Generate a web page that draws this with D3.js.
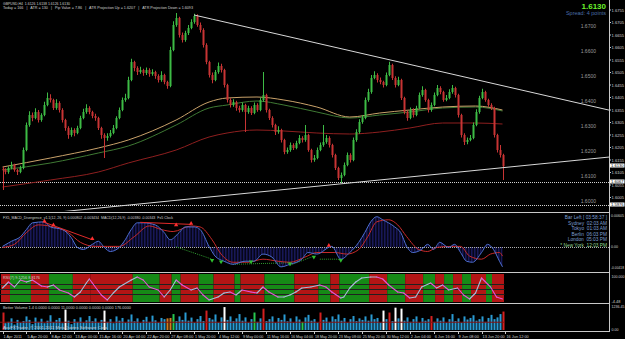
<!DOCTYPE html>
<html>
<head>
<meta charset="utf-8">
<script src="https://cdn.jsdelivr.net/npm/d3@7"></script>
<style>
body { margin: 0; background: #000; }
svg { display: block; }
text { font-family: 'Liberation Sans', Arial, sans-serif; }
</style>
</head>
<body>
<svg id="chart" width="625" height="339"></svg>
<script>
// GBPUSD H4 candles, prices stored as pips above 1.6000
const firstOpen = 120
const closePips = [115,107,123,135,115,107,123,195,295,335,323,347,315,335,375,403,395,363,383,355,
  315,283,255,275,263,283,323,347,363,347,331,323,283,255,243,251,263,283,323,355,
  395,403,475,547,523,507,515,503,515,499,507,491,475,495,467,451,595,695,723,655,
  635,663,683,707,731,695,675,615,547,495,475,507,531,515,455,395,375,387,363,355,
  375,347,363,343,375,355,395,415,355,323,295,267,275,235,187,195,215,203,223,243,
  235,255,195,155,163,195,215,227,243,215,175,123,83,95,135,175,155,235,267,307,
  323,395,427,483,495,475,467,455,495,535,483,455,475,403,347,323,355,335,363,415,
  435,395,355,375,415,443,427,395,403,427,443,415,335,255,227,235,243,295,347,403,
  427,395,375,363,255,195,175,130]
const highPips = [128,122,130,148,140,120,132,205,305,350,345,362,355,342,388,425,418,400,398,390,
  362,320,290,285,282,292,332,360,378,370,352,340,328,288,262,262,275,295,330,365,
  405,420,488,560,552,530,528,520,525,522,518,512,498,510,500,472,608,710,743,728,
  665,672,695,718,740,738,705,682,622,552,505,515,545,540,520,460,402,398,392,372,
  385,380,372,370,385,382,405,507,420,360,330,300,290,280,240,205,225,222,232,255,
  250,295,260,200,175,205,225,295,255,250,220,180,128,105,145,185,182,245,278,318,
  335,405,440,495,510,502,485,472,505,548,540,490,488,480,408,352,365,362,372,425,
  450,440,400,385,425,455,450,432,415,438,455,448,420,340,262,245,255,305,358,412,
  440,432,400,382,368,260,215,180]
const lowPips = [35,98,100,118,108,95,102,118,190,288,310,318,305,308,330,370,385,355,356,345,
  305,272,240,248,250,258,278,318,340,338,322,312,275,240,163,232,245,258,278,318,
  350,388,398,470,510,495,500,492,495,488,492,480,465,468,458,440,446,590,688,645,
  625,628,655,678,700,688,665,605,538,485,462,470,500,505,445,385,365,368,352,345,
  348,267,340,335,338,348,350,388,345,315,285,255,260,225,178,180,188,195,198,218,
  225,228,188,145,148,158,190,208,220,205,165,115,75,63,90,130,145,150,228,260,
  300,318,388,420,478,465,458,445,450,490,475,445,450,395,338,312,318,325,330,358,
  408,388,345,348,370,410,418,388,390,398,420,405,325,245,215,218,230,238,290,340,
  398,388,368,355,245,185,165,75]

// moving averages, sampled at bar indices (pips above 1.6000)
const maIdx    = [0,16,32,42,58,69,75,85,94,105,116,126,136,147,158,167]
const maOrange = [127,163,203,235,315,387,403,407,395,367,327,343,355,367,371,355]
const maGreen  = [115,143,183,211,295,363,375,391,375,347,323,335,347,363,367,351]
const maRed    = [47,75,107,143,195,247,263,275,271,263,259,267,283,303,303,299]

// trend lines and levels
const trendLines = [[[64, 1.6735], [166, 1.6455]], [[49, 1.5983], [166, 1.6123]]]
const dottedLevels = [1.6067, 1.5976]
const roundLevels = [1.67, 1.66, 1.65, 1.64, 1.63, 1.62, 1.61, 1.60]
const priceTicks = d3.range(16).map(i => +(1.6005 + i * 0.005).toFixed(4))
const priceBoxes = [1.6130, 1.6067, 1.5976]

// MACD panel
const macdIdx = [0,3,6,8,10,14,16,20,23,25,27,30,32,34,36,39,41,43,45,47,51,54,56,59,61,64,66,69,71,74,77,81,84,87,90,93,96,100,102,105,110,113,116,119,121,123,125,127,131,133,135,137,140,142,144,146,149,151,153,155,157,160,162,164,166,167]
const macdVal = [0.0001,0.0011,0.0020,0.0034,0.0047,0.0049,0.0039,0.0034,0.0018,-0.0001,-0.0005,0.0005,0.0011,-0.0001,-0.0009,-0.0001,0.0014,0.0034,0.0047,0.0047,0.0043,0.0028,0.0014,0.0028,0.0039,0.0039,0.0034,0.0001,-0.0018,-0.0028,-0.0034,-0.0028,-0.0028,-0.0014,-0.0020,-0.0039,-0.0034,-0.0024,-0.0011,-0.0014,0.0001,-0.0024,-0.0011,0.0009,0.0028,0.0049,0.0059,0.0053,0.0039,0.0028,0.0001,-0.0011,-0.0005,0.0005,-0.0005,0.0009,-0.0001,0.0005,-0.0011,-0.0028,-0.0030,-0.0011,0.0005,-0.0005,-0.0028,-0.0039]
const sigIdx = [0,4,8,12,17,22,26,31,35,39,44,49,53,57,63,66,70,73,77,82,87,92,96,101,105,111,115,119,122,125,129,132,135,139,142,145,150,153,156,160,163,166,167]
const sigVal = [-0.0001,0.0005,0.0028,0.0043,0.0039,0.0028,0.0009,0.0001,0.0001,0.0001,0.0020,0.0041,0.0034,0.0030,0.0041,0.0039,0.0014,-0.0014,-0.0030,-0.0030,-0.0024,-0.0028,-0.0030,-0.0020,-0.0011,-0.0011,-0.0014,-0.0005,0.0020,0.0049,0.0053,0.0043,0.0020,-0.0005,-0.0009,-0.0001,0.0001,0.0001,-0.0018,-0.0024,-0.0014,-0.0011,-0.0018]
const bearDiv = [[[14, 0.0048], [30, 0.0014]], [[46, 0.0048], [63, 0.0044]]]
const bearMarks = [[14, 0.0048], [17, 0.0041], [30, 0.0014], [58, 0.0041], [63, 0.0044], [109, 0.0001]]
const bullDiv = [[[58, 0.0000], [70, -0.0024]], [[77, -0.0034], [96, -0.0031]], [[106, -0.0024], [113, -0.0024]], [[96, -0.0036], [104, -0.0018]]]
const bullMarks = [[70, -0.0024], [73, -0.0027], [83, -0.0027], [96, -0.0031], [113, -0.0024], [104, -0.0018]]
const clockLines = ['Bar Left [ 03:58:37 ]', 'Sydney  02:03 AM', 'Tokyo  01:03 AM', 'Berlin  06:03 PM', 'London  05:03 PM', '* New York  12:03 PM']

// RSI panel
const rsiIdx = [0,2,4,6,8,10,13,15,17,19,22,24,26,28,29,30,33,35,37,39,43,45,47,49,52,54,56,58,60,63,65,67,69,72,74,76,78,80,83,85,87,89,92,94,96,98,100,103,106,108,110,113,114,116,118,120,123,125,127,129,132,134,136,138,140,143,145,147,149,152,154,156,158,160,163,165,167]
const rsiVal = [52,76,56,84,76,84,60,56,64,44,32,16,36,72,88,72,24,4,32,56,84,96,84,56,44,16,44,84,64,44,52,24,4,16,32,36,24,44,36,32,56,36,16,16,24,36,52,56,64,56,36,12,16,52,76,92,96,96,88,64,36,32,12,16,56,72,52,64,44,52,24,8,32,92,56,16,8]
const rsiBands = [[0,3,'r'],[3,10,'g'],[10,16,'r'],[16,24,'g'],[24,30,'r'],[30,44,'r'],[44,53,'g'],[53,57,'r'],[57,60,'g'],[60,66,'r'],[66,71,'g'],[71,78,'r'],[78,80,'g'],[80,88,'r'],[88,98,'g'],[98,106,'r'],[106,110,'g'],[110,113,'r'],[113,123,'g'],[123,129,'r'],[129,135,'g'],[135,141,'r'],[141,145,'g'],[145,148,'r'],[148,151,'g'],[151,154,'r'],[154,157,'g'],[157,162,'r'],[162,164,'g'],[164,168,'r']]

// volume panel
const volume = [900,350,420,600,280,520,380,460,700,520,300,640,420,580,350,480,760,400,520,620,
  350,1050,480,300,560,420,650,380,500,720,450,600,380,520,1000,420,560,350,700,480,
  620,380,540,800,450,600,360,520,680,420,740,500,380,620,560,600,620,820,460,700,
  520,900,480,640,380,560,720,460,1000,620,540,800,380,650,1180,520,700,450,600,820,
  480,650,380,560,900,420,600,1100,460,560,700,380,620,520,800,450,600,380,700,540,
  420,650,780,480,560,380,900,520,640,420,700,560,800,480,620,380,560,720,460,600,
  520,700,480,800,560,620,380,1000,560,900,460,1150,600,1100,480,650,420,560,700,380,
  620,480,560,720,420,600,480,650,380,560,820,460,600,380,700,540,620,760,480,560,
  700,420,620,780,560,650,820,950]
const volSpecial = {0: 'r', 21: 'w', 34: 'w', 55: 'o', 56: 'o', 57: 'g', 68: 'r', 74: 'w', 84: 'g', 87: 'r', 100: 'g', 106: 'r', 127: 'w', 129: 'r', 131: 'w', 133: 'w', 143: 'r', 167: 'r'}
const volAvg = 400

const timeLabels = ['1 Apr 2011','5 Apr 20:00','8 Apr 12:00','13 Apr 00:00','15 Apr 16:00','20 Apr 04:00','22 Apr 20:00','27 Apr 08:00','1 May 20:00','4 May 12:00','9 May 00:00','11 May 16:00','16 May 04:00','18 May 20:00','23 May 08:00','25 May 20:00','30 May 12:00','2 Jun 04:00','6 Jun 16:00','9 Jun 08:00','13 Jun 20:00','16 Jun 12:00']

const W = 625, H = 339, axisX = 609
const svg = d3.select('#chart')
const x = d3.scaleLinear().domain([0, 167]).range([2.5, 502.5])
const pip = p => 1.6 + p / 10000
const small = 4

const panels = {
  main: { top: 0, bottom: 211 },
  macd: { top: 214, bottom: 271 },
  rsi: { top: 274, bottom: 302 },
  vol: { top: 305, bottom: 331 }
}

const yP = d3.scaleLinear().domain([1.5955, 1.6795]).range([210, 0])
const yM = d3.scaleLinear().domain([-0.00471, 0.00643]).range([271, 214])
const yR = d3.scaleLinear().domain([0, 100]).range([301, 276])
const yV = d3.scaleLinear().domain([0, 1236]).range([330, 306])

function label(g, x0, y0, txt, len, size = small, fill = '#d0d0d0') {
  const t = g.append('text').attr('x', x0).attr('y', y0).attr('font-size', size).attr('fill', fill)
    .attr('xml:space', 'preserve').text(txt)
  if (len) t.attr('textLength', len).attr('lengthAdjust', 'spacingAndGlyphs')
  return t
}

const defs = svg.append('defs')
Object.entries(panels).forEach(([k, p]) => {
  defs.append('clipPath').attr('id', 'clip-' + k)
    .append('rect').attr('x', 0).attr('y', p.top).attr('width', axisX).attr('height', p.bottom - p.top)
})
defs.append('pattern').attr('id', 'hatch').attr('width', 1.5).attr('height', 4)
  .attr('patternUnits', 'userSpaceOnUse')
  .append('rect').attr('width', 0.8).attr('height', 4).attr('fill', '#1c1c68')

// panel separators
svg.append('g').selectAll('line').data([212.5, 272.5, 303.5, 331.5]).join('line')
  .attr('x1', 0).attr('x2', axisX).attr('y1', d => d).attr('y2', d => d)
  .attr('stroke', '#c8c8c8').attr('stroke-width', 1)
svg.append('line').attr('x1', axisX + 0.5).attr('x2', axisX + 0.5).attr('y1', 0).attr('y2', 332)
  .attr('stroke', '#c8c8c8')

// ---------- main panel ----------
const main = svg.append('g').attr('clip-path', 'url(#clip-main)')

main.selectAll('.lvl').data(dottedLevels).join('line')
  .attr('x1', 0).attr('x2', axisX).attr('y1', d => Math.round(yP(d)) + 0.5).attr('y2', d => Math.round(yP(d)) + 0.5)
  .attr('stroke', '#d0d0d0').attr('stroke-dasharray', '1,1')

main.selectAll('.rl').data(roundLevels).join('text')
  .attr('x', 596).attr('y', d => yP(d) + 4.5).attr('text-anchor', 'end')
  .attr('font-size', 5).attr('fill', '#9a9a9a').text(d => d.toFixed(4))

const maLine = vals => d3.line().curve(d3.curveMonotoneX)
  .x((d, i) => x(maIdx[i])).y(d => yP(pip(d)))(vals)
main.append('path').attr('d', maLine(maRed)).attr('fill', 'none').attr('stroke', '#8e1f1f').attr('stroke-width', 1)
main.append('path').attr('d', maLine(maGreen)).attr('fill', 'none').attr('stroke', '#3f7a34').attr('stroke-width', 1)
main.append('path').attr('d', maLine(maOrange)).attr('fill', 'none').attr('stroke', '#c9a26a').attr('stroke-width', 1)

const bars = closePips.map((c, i) => ({
  i, o: i ? closePips[i - 1] : firstOpen, c, h: highPips[i], l: lowPips[i]
}))
const up = '#3dbb45', dn = '#c83434'
const cg = main.append('g')
cg.selectAll('line').data(bars).join('line')
  .attr('x1', d => Math.round(x(d.i)) + 0.5).attr('x2', d => Math.round(x(d.i)) + 0.5)
  .attr('y1', d => yP(pip(d.h))).attr('y2', d => yP(pip(d.l)))
  .attr('stroke', d => d.c >= d.o ? up : dn)
cg.selectAll('rect').data(bars).join('rect')
  .attr('x', d => Math.round(x(d.i)) - 0.5).attr('width', 2)
  .attr('y', d => yP(pip(Math.max(d.o, d.c))))
  .attr('height', d => Math.max(1, Math.abs(yP(pip(d.o)) - yP(pip(d.c)))))
  .attr('fill', d => d.c >= d.o ? up : dn)

trendLines.forEach(([a, b], n) => {
  const x1 = x(a[0]), y1 = yP(a[1]), x2 = x(b[0]), y2 = yP(b[1])
  const k = (y2 - y1) / (x2 - x1)
  const xs = n === 1 ? 0 : x1
  main.append('line').attr('x1', xs).attr('y1', y1 + k * (xs - x1)).attr('x2', axisX).attr('y2', y1 + k * (axisX - x1))
    .attr('stroke', '#d8d8d8').attr('stroke-width', 1)
})

// header
label(svg, 3, 4.5, 'GBPUSD,H4  1.6126 1.6138 1.6126 1.6130', 67)
label(svg, 3, 9, 'Today = 166   |   ATR = 130   |   Pip Value = 7.86   |   ATR Projection Up = 1.6207   |   ATR Projection Down = 1.6093', 190)
svg.append('text').attr('x', 606).attr('y', 9).attr('text-anchor', 'end').attr('font-size', 8)
  .attr('font-weight', 'bold').attr('fill', '#6cf02c').text('1.6130')
svg.append('text').attr('x', 606).attr('y', 15).attr('text-anchor', 'end').attr('font-size', 5.5)
  .attr('fill', '#4a6fa8').text('Spread: 4 points')

// price axis
const pa = svg.append('g')
pa.selectAll('line').data(priceTicks).join('line')
  .attr('x1', axisX).attr('x2', axisX + 2).attr('y1', d => yP(d)).attr('y2', d => yP(d)).attr('stroke', '#c8c8c8')
pa.selectAll('text').data(priceTicks).join('text')
  .attr('x', axisX + 2.5).attr('y', d => yP(d) + 1.5).attr('font-size', 3.9).attr('fill', '#d0d0d0')
  .attr('textLength', 12.5).attr('lengthAdjust', 'spacingAndGlyphs')
  .text(d => d.toFixed(4))
const pb = svg.append('g').selectAll('g').data(priceBoxes).join('g')
  .attr('transform', d => `translate(${axisX + 1},${Math.round(yP(d)) - 2.5})`)
pb.append('rect').attr('width', 14.5).attr('height', 4).attr('fill', '#fff')
pb.append('text').attr('x', 1).attr('y', 3.3).attr('font-size', 3.7).attr('fill', '#000')
  .attr('textLength', 12.5).attr('lengthAdjust', 'spacingAndGlyphs').text(d => d.toFixed(4))

// ---------- MACD panel ----------
const mg = svg.append('g').attr('clip-path', 'url(#clip-macd)')
const macdPts = macdIdx.map((d, i) => [d, macdVal[i]])
const sigPts = sigIdx.map((d, i) => [d, sigVal[i]])
mg.append('path')
  .attr('d', d3.area().curve(d3.curveMonotoneX).x(d => x(d[0])).y0(yM(0)).y1(d => yM(d[1]))(macdPts))
  .attr('fill', 'url(#hatch)')
mg.append('line').attr('x1', 0).attr('x2', axisX).attr('y1', Math.round(yM(0)) + 0.5).attr('y2', Math.round(yM(0)) + 0.5)
  .attr('stroke', '#b0b0b0').attr('stroke-dasharray', '1,1')
mg.selectAll('.bull').data(bullDiv).join('line')
  .attr('x1', d => x(d[0][0])).attr('y1', d => yM(d[0][1])).attr('x2', d => x(d[1][0])).attr('y2', d => yM(d[1][1]))
  .attr('stroke', '#2f9a2f').attr('stroke-dasharray', '1,1')
mg.append('path').attr('d', d3.line().curve(d3.curveMonotoneX).x(d => x(d[0])).y(d => yM(d[1]))(sigPts))
  .attr('fill', 'none').attr('stroke', '#c82a2a').attr('stroke-width', 1)
mg.append('path').attr('d', d3.line().curve(d3.curveMonotoneX).x(d => x(d[0])).y(d => yM(d[1]))(macdPts))
  .attr('fill', 'none').attr('stroke', '#4d6fd0').attr('stroke-width', 1)
mg.selectAll('.bear').data(bearDiv).join('line')
  .attr('x1', d => x(d[0][0])).attr('y1', d => yM(d[0][1])).attr('x2', d => x(d[1][0])).attr('y2', d => yM(d[1][1]))
  .attr('stroke', '#e02a2a').attr('stroke-width', 1)
mg.selectAll('.bm').data(bearMarks).join('path')
  .attr('d', d3.symbol(d3.symbolTriangle, 8))
  .attr('transform', d => `translate(${x(d[0])},${yM(d[1]) - 1})`).attr('fill', '#ff3030')
mg.selectAll('.gm').data(bullMarks).join('path')
  .attr('d', d3.symbol(d3.symbolTriangle, 8))
  .attr('transform', d => `translate(${x(d[0])},${yM(d[1]) + 1}) rotate(180)`).attr('fill', '#2fbf2f')
label(svg, 3, 218.5, 'FX5_MACD_Divergence_v1.1(12, 26, 9) 0.000802 -0.003434  MACD(12,26,9) -0.00380 -0.00343  Fx5 Clock', 170)
svg.append('g').selectAll('text').data(clockLines).join('text')
  .attr('x', 607).attr('y', (d, i) => 219 + i * 5.6).attr('text-anchor', 'end').attr('font-size', 4.8)
  .attr('fill', (d, i) => i === 5 ? '#8fd08f' : '#7d9fd0').attr('xml:space', 'preserve').text(d => d)
const macdTicks = [0.00605, 0, -0.00418]
svg.append('g').selectAll('text').data(macdTicks).join('text')
  .attr('x', axisX + 2).attr('y', d => d < 0 ? yM(d) + 0.5 : yM(d) + 1.5).attr('font-size', 3.9).attr('fill', '#d0d0d0')
  .attr('textLength', d => d === 0 ? 7 : 13).attr('lengthAdjust', 'spacingAndGlyphs')
  .text(d => d === 0 ? '0.00' : d.toFixed(5))

// ---------- RSI panel ----------
const rg = svg.append('g').attr('clip-path', 'url(#clip-rsi)')
rg.selectAll('rect').data(rsiBands).join('rect')
  .attr('x', d => x(d[0]) - 1.5).attr('width', d => x(d[1]) - x(d[0]))
  .attr('y', panels.rsi.top).attr('height', panels.rsi.bottom - panels.rsi.top)
  .attr('fill', d => d[2] === 'r' ? '#b31515' : '#168a16')
rg.selectAll('.lv').data([70, 50, 30]).join('line')
  .attr('x1', 0).attr('x2', x(167) + 2).attr('y1', d => Math.round(yR(d)) + 0.5).attr('y2', d => Math.round(yR(d)) + 0.5)
  .attr('stroke', '#202020').attr('stroke-width', 1)
const rsiPts = rsiIdx.map((d, i) => [d, rsiVal[i]])
rg.selectAll('.seg').data(d3.pairs(rsiPts)).join('line')
  .attr('x1', d => x(d[0][0])).attr('y1', d => yR(d[0][1])).attr('x2', d => x(d[1][0])).attr('y2', d => yR(d[1][1]))
  .attr('stroke', d => d[1][1] < d[0][1] ? '#e455d8' : '#a9bcd8').attr('stroke-width', 1.1).attr('stroke-linecap', 'round')
label(svg, 3, 278.5, 'RSI(7) 9.1256 8.8176', 37)
label(svg, axisX + 2.5, 277.5, '100.000', 13, 3.9)
label(svg, axisX + 2.5, 302.5, '-4.48', 9, 3.9)

// ---------- volume panel ----------
const vg = svg.append('g').attr('clip-path', 'url(#clip-vol)')
const volColor = { b: '#2a9bd4', r: '#d42020', w: '#ffffff', g: '#28c850', o: '#d07a20' }
vg.selectAll('rect').data(volume).join('rect')
  .attr('x', (d, i) => Math.round(x(i)) - 0.5).attr('width', 2)
  .attr('y', d => yV(d)).attr('height', d => yV(0) - yV(d))
  .attr('fill', (d, i) => volColor[volSpecial[i] || 'b'])
vg.append('line').attr('x1', 0).attr('x2', x(167) + 2).attr('y1', yV(volAvg)).attr('y2', yV(volAvg))
  .attr('stroke', '#8a1010').attr('stroke-width', 1)
label(svg, 3, 309, 'Better Volume 1.4 0.0000 0.0000 11.0000 0.0000 0.0000 0.0000 176.0000', 128)
label(svg, 3, 328.5, 'AvaFXTrader, © 2001-2011 MetaQuotes Software Corp.', 105)
label(svg, axisX + 2.5, 307.5, '1236.45', 13, 3.9)
label(svg, axisX + 2.5, 331, '0.00', 7, 3.9)

// ---------- time axis ----------
const ta = svg.append('g')
ta.selectAll('line').data(timeLabels).join('line')
  .attr('x1', (d, i) => Math.round(x(i * 8)) + 0.5).attr('x2', (d, i) => Math.round(x(i * 8)) + 0.5)
  .attr('y1', 331).attr('y2', 334).attr('stroke', '#c8c8c8')
ta.selectAll('text').data(timeLabels).join('text')
  .attr('x', (d, i) => x(i * 8) + 1).attr('y', 337.5).attr('font-size', 3.9).attr('fill', '#d0d0d0')
  .attr('textLength', d => d.length * 1.85).attr('lengthAdjust', 'spacingAndGlyphs').text(d => d)
</script>
</body>
</html>
